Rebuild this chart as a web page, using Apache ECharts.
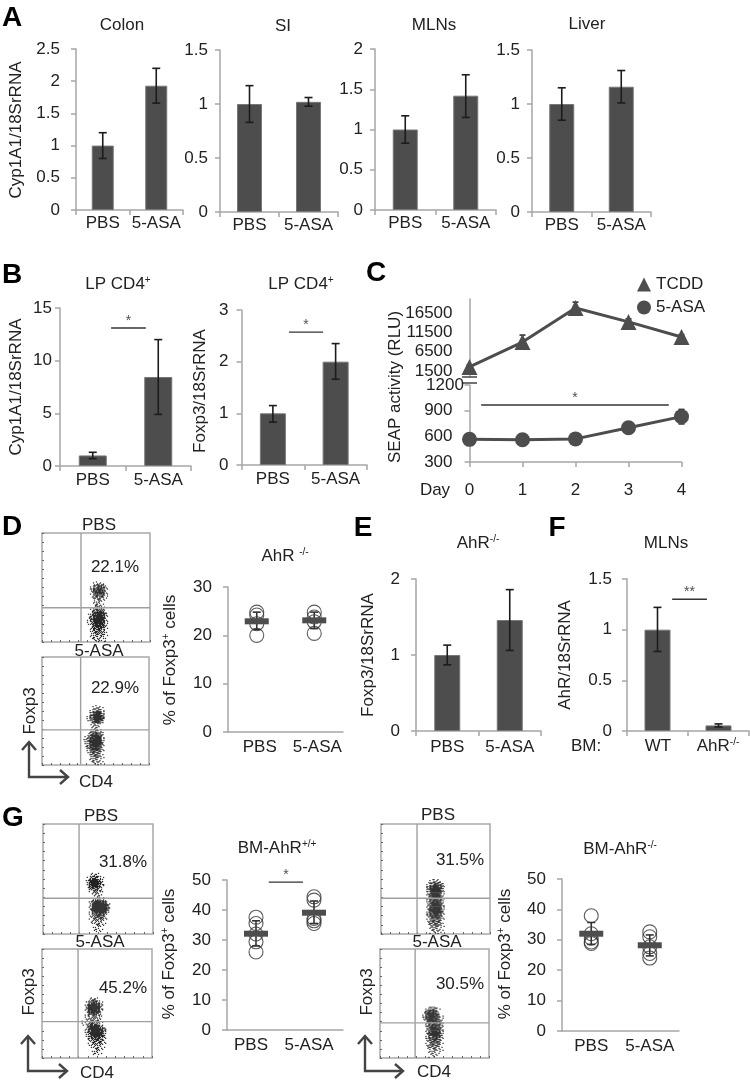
<!DOCTYPE html>
<html>
<head>
<meta charset="utf-8">
<style>
  html, body { margin: 0; padding: 0; background: #fff; }
  #chart { width: 750px; height: 1085px; }
</style>
<script src="https://cdn.jsdelivr.net/npm/echarts@6/dist/echarts.min.js"></script>
</head>
<body>
<div id="chart"></div>
<script>
// 分组
const pbsAsa = ['PBS', '5-ASA']
const wtKo = ['WT', 'AhR-/-']
const days = [0, 1, 2, 3, 4]

// A - mean / low / high
const colonMean = [1, 1.93]
const colonLow = [0.8, 1.66]
const colonHigh = [1.2, 2.2]
const siMean = [1, 1.02]
const siLow = [0.83, 0.98]
const siHigh = [1.17, 1.06]
const mlnMean = [1, 1.42]
const mlnLow = [0.83, 1.15]
const mlnHigh = [1.17, 1.68]
const liverMean = [1, 1.16]
const liverLow = [0.85, 1.01]
const liverHigh = [1.15, 1.31]

// B
const lpCypMean = [1, 8.45]
const lpCypLow = [0.7, 4.9]
const lpCypHigh = [1.3, 12]
const lpFoxMean = [1, 2]
const lpFoxLow = [0.83, 1.66]
const lpFoxHigh = [1.15, 2.35]

// C
const tcdd = [2600, 9000, 17800, 14200, 10300]
const tcddErr = [500, 1800, 1500, 800, 600]
const asa = [565, 560, 570, 700, 830]
const asaErr = [40, 40, 45, 60, 85]
const upperTicks = [1500, 6500, 11500, 16500]
const lowerTicks = [300, 600, 900]

// E, F
const koFoxMean = [1, 1.46]
const koFoxLow = [0.87, 1.06]
const koFoxHigh = [1.13, 1.86]
const ahrMean = [1, 0.055]
const ahrLow = [0.785, 0.04]
const ahrHigh = [1.22, 0.07]

// D, G 散点 - 每组的读数
const dPbs = [24.8, 24.2, 22.4, 20]
const dAsa = [24.8, 23.8, 22.8, 20.4]
const dMean = [22.9, 23.1]
const dLow = [21.2, 21.4]
const dHigh = [24.8, 24.8]
const g1Pbs = [37.6, 35.5, 32, 29.4, 26]
const g1Asa = [44.4, 43.3, 37.2, 36.4, 35.5]
const g1Mean = [32.1, 39.1]
const g1Low = [28, 35.5]
const g1High = [36.4, 43]
const g2Pbs = [37.9, 32, 30.5, 29.3, 28.8]
const g2Asa = [32.6, 31, 27.7, 25.5, 24]
const g2Mean = [32, 28.2]
const g2Low = [28.5, 24.7]
const g2High = [35.7, 31.6]

// 流式图 - 按 3px 一格读出的密度,0-9
const flowD1 = ['...1221...', '..146641..', '..278862..', '..278872..', '..156652..', '..134431..', '...2331...', '...2321...', '...2331...', '..24664...', '.1378972..', '.1489982..', '.2599982..', '.1489972..', '.1378862..', '..367751..', '..255541..', '..244431..', '..233321..', '...2221...']
const flowD2 = ['....1221...', '...13431...', '...26993...', '..158985...', '..158996...', '..136963...', '...1331....', '...1221....', '...2442....', '..146752...', '.1378982...', '.2489993...', '.2489993...', '.1389982...', '..378862...', '..256641...', '...35531...', '...24431...', '...23321...', '....221....']
const flowG1 = ['...1221....', '..136631...', '..279962...', '..289973...', '..168952...', '...35631...', '...13421...', '....1221...', '....1342...', '...269985..', '...2999994.', '...3999994.', '...2899983.', '...157873..', '...245652..', '...134431..', '...123321..', '....1231...', '....1221...', '.....11....']
const flowG2 = ['...1331....', '..147741...', '..289983...', '..399993...', '..289982...', '..157741...', '..134431...', '.1233331...', '.1246531...', '.1268984...', '..2799985..', '..2699984..', '..2589973..', '...367752..', '...245542..', '...234431..', '....23321..', '....1331...', '....1221...']
const flowG3 = ['...1331...', '..246642..', '..379973..', '..389983..', '..389983..', '..379972..', '..267862..', '..268972..', '..379983..', '..389993..', '..389983..', '..378972..', '..267762..', '..256651..', '..245541..', '...34431..', '...23321..', '...1221...']
const flowG4 = ['..13431...', '.158851...', '.279973...', '.2799842..', '.2698852..', '..367762..', '..368873..', '..379983..', '..379983..', '..268972..', '..267862..', '..256651..', '..245541..', '..234431..', '...23321..', '...2221...', '...121....']

const FONT = '"Liberation Sans", Arial, sans-serif'
const INK = '#222'
const AXIS = '#a6a6a6'
const BAR = '#4d4d4d'

const grid = []
const xAxis = []
const yAxis = []
const series = []
const graphic = []

function text (x, y, str, opt = {}) {
  graphic.push({
    type: 'text',
    x,
    y,
    rotation: opt.vertical ? Math.PI / 2 : 0,
    z: 20,
    style: {
      text: str,
      align: 'center',
      verticalAlign: 'middle',
      fontFamily: FONT,
      fontSize: opt.size || 17,
      fontWeight: opt.weight || 'normal',
      fill: opt.fill || INK,
      rich: {
        t: { fontFamily: FONT, fontSize: opt.size || 17, fill: INK },
        s: { fontFamily: FONT, fontSize: 10, fill: INK, verticalAlign: 'top' },
      },
    },
  })
}

function stroke (points, width, color) {
  graphic.push({
    type: 'polyline',
    z: 15,
    shape: { points },
    style: { stroke: color, lineWidth: width, fill: 'none' },
  })
}

function whisker (api, cap, color) {
  const a = api.coord([api.value(0), api.value(1)])
  const b = api.coord([api.value(0), api.value(2)])
  const style = { stroke: color, lineWidth: 1.6 }
  return {
    type: 'group',
    children: [
      { type: 'line', shape: { x1: a[0], y1: a[1], x2: b[0], y2: b[1] }, style },
      { type: 'line', shape: { x1: a[0] - cap, y1: a[1], x2: a[0] + cap, y2: a[1] }, style },
      { type: 'line', shape: { x1: b[0] - cap, y1: b[1], x2: b[0] + cap, y2: b[1] }, style },
    ],
  }
}

function errorSeries (gi, low, high, cap, color) {
  series.push({
    type: 'custom',
    xAxisIndex: gi.cat,
    yAxisIndex: gi.y,
    z: 6,
    encode: { x: 0, y: [1, 2] },
    data: low.map((v, i) => [i, v, high[i]]),
    renderItem: (params, api) => whisker(api, cap, color),
  })
}

// 显著性标记:横线 + 星号,x 走隐藏的 0-2 数值轴
function sigMark (gi, from, to, y, star) {
  series.push({
    type: 'line',
    xAxisIndex: gi.val,
    yAxisIndex: gi.y,
    symbol: 'none',
    silent: true,
    lineStyle: { color: '#333', width: 1.3 },
    data: [[from, y], [to, y]],
  })
  series.push({
    type: 'scatter',
    xAxisIndex: gi.val,
    yAxisIndex: gi.y,
    symbolSize: 0,
    silent: true,
    label: { show: true, position: 'top', distance: 0, formatter: star, fontFamily: FONT, fontSize: 14, color: INK },
    data: [[(from + to) / 2, y]],
  })
}

function addAxes (box, cats, yMax, yInt, opt = {}) {
  const g = grid.length
  grid.push({ left: box[0], top: box[1], width: box[2] - box[0], height: box[3] - box[1] })
  const cat = xAxis.length
  xAxis.push({
    type: 'category',
    gridIndex: g,
    data: cats,
    axisLine: { lineStyle: { color: AXIS, width: 1.5 } },
    axisTick: { show: opt.xTick !== false, length: 5, lineStyle: { color: AXIS, width: 1.5 } },
    axisLabel: {
      show: !opt.noCatLabel,
      margin: opt.xMargin || 6,
      interval: 0,
      padding: opt.labelPad || 0,
      fontFamily: FONT,
      fontSize: 17,
      color: INK,
    },
  })
  const val = xAxis.length
  xAxis.push({ type: 'value', gridIndex: g, min: 0, max: 2, show: false })
  const y = yAxis.length
  yAxis.push({
    type: 'value',
    gridIndex: g,
    min: 0,
    max: yMax,
    interval: yInt,
    splitLine: { show: false },
    axisLine: { show: true, lineStyle: { color: AXIS, width: 1.5 } },
    axisTick: { show: true, length: 5, lineStyle: { color: AXIS, width: 1.5 } },
    axisLabel: { margin: opt.yMargin || 12, fontFamily: FONT, fontSize: 17, color: INK },
  })
  return { cat, val, y }
}

function barPanel (box, cats, mean, low, high, yMax, yInt, barW, opt = {}) {
  const gi = addAxes(box, cats, yMax, yInt, opt)
  series.push({
    type: 'bar',
    xAxisIndex: gi.cat,
    yAxisIndex: gi.y,
    barWidth: barW,
    z: 4,
    itemStyle: { color: BAR, borderColor: '#777', borderWidth: 1 },
    data: mean,
  })
  errorSeries(gi, low, high, 4, '#1c1c1c')
  return gi
}

function dotPanel (box, groups, mean, low, high, yMax, yInt, labelPad) {
  const gi = addAxes(box, pbsAsa, yMax, yInt, { xTick: false, xMargin: 7, yMargin: 16, labelPad })
  const points = []
  groups.forEach((vals, i) => vals.forEach(v => points.push([i, v])))
  series.push({
    type: 'scatter',
    xAxisIndex: gi.cat,
    yAxisIndex: gi.y,
    z: 3,
    symbolSize: 14,
    itemStyle: { color: 'rgba(255,255,255,0)', borderColor: '#333', borderWidth: 1.1 },
    data: points,
  })
  errorSeries(gi, low, high, 4, '#333')
  series.push({
    type: 'custom',
    xAxisIndex: gi.cat,
    yAxisIndex: gi.y,
    z: 7,
    encode: { x: 0, y: 1 },
    data: mean.map((v, i) => [i, v]),
    renderItem: (params, api) => {
      const c = api.coord([api.value(0), api.value(1)])
      return {
        type: 'rect',
        shape: { x: c[0] - 12, y: c[1] - 3, width: 24, height: 6 },
        style: { fill: '#4d4d4d' },
      }
    },
  })
  return gi
}

// 一格 3x3 子点,密度 d 就点亮 d 个,起点随格子错开免得太规整
const subOrder = [[1, 1], [0, 2], [2, 0], [2, 2], [0, 0], [1, 2], [1, 0], [2, 1], [0, 1]]

function flowPlot (box, rows, colStart, rowStart, gateX, gateY) {
  const g = grid.length
  grid.push({
    left: box[0],
    top: box[1],
    width: box[2] - box[0],
    height: box[3] - box[1],
    show: true,
    borderColor: '#a8a8a8',
    borderWidth: 1.5,
  })
  const tick = { show: true, inside: true, length: 2, lineStyle: { color: '#666', width: 1 } }
  const base = { type: 'value', gridIndex: g, min: 0, max: 36, interval: 3, splitLine: { show: false }, axisLine: { show: false, onZero: false }, axisLabel: { show: false }, axisTick: tick }
  const xi = xAxis.length
  const yi = yAxis.length
  xAxis.push({ ...base, position: 'bottom' })
  yAxis.push({ ...base, inverse: true, position: 'left' })

  const dots = []
  rows.forEach((row, r) => {
    row.split('').forEach((ch, c) => {
      if (ch === '.') return
      const col = colStart + c
      const line = rowStart + r
      const shift = (col * 5 + line * 7) % 9
      for (let k = 0; k < Number(ch); k++) {
        const sub = subOrder[(k + shift) % 9]
        dots.push([col + (sub[0] + 0.5) / 3, line + (sub[1] + 0.5) / 3])
      }
    })
  })
  series.push({
    type: 'scatter',
    xAxisIndex: xi,
    yAxisIndex: yi,
    symbol: 'rect',
    symbolSize: 1.25,
    silent: true,
    itemStyle: { color: '#000' },
    data: dots,
  })
  const gate = { type: 'line', xAxisIndex: xi, yAxisIndex: yi, symbol: 'none', silent: true, z: 5, lineStyle: { color: '#a0a0a0', width: 1.4 } }
  series.push({ ...gate, data: [[gateX, 0], [gateX, 36]] })
  series.push({ ...gate, data: [[0, gateY], [36, gateY]] })
}

function axisArrows (x, yTop, yBottom, xRight) {
  stroke([[x, yTop], [x, yBottom], [xRight, yBottom]], 2.4, '#444')
  stroke([[x - 7, yTop + 8], [x, yTop], [x + 7, yTop + 8]], 2.4, '#444')
  stroke([[xRight - 8, yBottom - 7], [xRight, yBottom], [xRight - 8, yBottom + 7]], 2.4, '#444')
}

// A
barPanel([76, 49, 183, 210], pbsAsa, colonMean, colonLow, colonHigh, 2.5, 0.5, 22, { yMargin: 16, xMargin: 5 })
barPanel([220, 50, 338, 212], pbsAsa, siMean, siLow, siHigh, 1.5, 0.5, 25, { xMargin: 5 })
barPanel([375, 49, 496, 210], pbsAsa, mlnMean, mlnLow, mlnHigh, 2, 0.5, 25, { xMargin: 5 })
barPanel([532, 50, 651, 212], pbsAsa, liverMean, liverLow, liverHigh, 1.5, 0.5, 25, { xMargin: 5 })

// B
const b1 = barPanel([60, 308, 191, 466], pbsAsa, lpCypMean, lpCypLow, lpCypHigh, 15, 5, 28, { yMargin: 8 })
sigMark(b1, 0.78, 1.31, 13.1, '*')
const b2 = barPanel([241.5, 310, 367, 465], pbsAsa, lpFoxMean, lpFoxLow, lpFoxHigh, 3, 1, 26, { yMargin: 13 })
sigMark(b2, 0.757, 1.3, 2.57, '*')

// C 折断的 y 轴,上下两个 grid
const cUp = grid.length
grid.push({ left: 469.5, top: 299, width: 212, height: 78 })
const cLow = grid.length
grid.push({ left: 469.5, top: 385, width: 212, height: 77 })
const cUpX = xAxis.length
xAxis.push({ type: 'value', gridIndex: cUp, min: 0, max: 4, show: false })
const cLowX = xAxis.length
xAxis.push({
  type: 'value',
  gridIndex: cLow,
  min: 0,
  max: 4,
  interval: 1,
  splitLine: { show: false },
  axisLine: { lineStyle: { color: AXIS, width: 1.5 } },
  axisTick: { length: 5, lineStyle: { color: AXIS, width: 1.5 } },
  axisLabel: { margin: 20, fontFamily: FONT, fontSize: 17, color: INK, showMinLabel: true, showMaxLabel: true },
})
const cUpY = yAxis.length
yAxis.push({
  type: 'value',
  gridIndex: cUp,
  min: 0,
  max: 20100,
  splitLine: { show: false },
  axisLine: { show: true, lineStyle: { color: AXIS, width: 1.5 } },
  axisTick: { show: false },
  axisLabel: { margin: 17, fontFamily: FONT, fontSize: 17, color: INK, customValues: upperTicks, formatter: v => String(v) },
})
const cLowY = yAxis.length
yAxis.push({
  type: 'value',
  gridIndex: cLow,
  min: 300,
  max: 1200,
  interval: 300,
  splitLine: { show: false },
  axisLine: { show: true, lineStyle: { color: AXIS, width: 1.5 } },
  axisTick: { show: true, length: 5, lineStyle: { color: AXIS, width: 1.5 } },
  axisLabel: { margin: 17, fontFamily: FONT, fontSize: 17, color: INK, customValues: lowerTicks },
})

function dayLine (name, values, errs, xi, yi, symbol, size) {
  const pts = days.map((d, i) => [d, values[i]])
  series.push({
    name,
    type: 'line',
    xAxisIndex: xi,
    yAxisIndex: yi,
    symbol,
    symbolSize: size,
    z: 4,
    clip: false,
    lineStyle: { color: BAR, width: 3 },
    itemStyle: { color: BAR },
    data: pts,
  })
  series.push({
    type: 'custom',
    xAxisIndex: xi,
    yAxisIndex: yi,
    z: 3,
    clip: false,
    encode: { x: 0, y: [1, 2] },
    data: pts.map((p, i) => [p[0], p[1] - errs[i], p[1] + errs[i]]),
    renderItem: (params, api) => whisker(api, 3, '#333'),
  })
}
dayLine('TCDD', tcdd, tcddErr, cUpX, cUpY, 'triangle', 16)
dayLine('5-ASA', asa, asaErr, cLowX, cLowY, 'circle', 15)
sigMark({ val: cLowX, y: cLowY }, 0.22, 3.76, 966, '*')
stroke([[462, 377], [477, 377]], 1.5, '#444')
stroke([[462, 383], [477, 383]], 1.5, '#444')

// D, E, F
flowPlot([42, 533, 150, 642], flowD1, 14, 16, 13, 24.7)
flowPlot([42, 657, 149, 765], flowD2, 13, 16, 13, 24.3)
dotPanel([228, 587, 343, 732], [dPbs, dAsa], dMean, dLow, dHigh, 30, 10, [0, 0, 0, 6])
barPanel([416, 579, 541, 731], pbsAsa, koFoxMean, koFoxLow, koFoxHigh, 2, 1, 26, { xMargin: 8, yMargin: 16 })
const f = barPanel([627, 579, 749, 731], wtKo, ahrMean, ahrLow, ahrHigh, 1.5, 0.5, 26, { xMargin: 8, yMargin: 15, noCatLabel: true })
sigMark(f, 0.74, 1.31, 1.3, '**')

// G
flowPlot([43, 824, 153, 934], flowG1, 12, 16, 11.8, 24.3)
flowPlot([42, 949, 152, 1058], flowG2, 12, 16, 11.8, 24)
const g1 = dotPanel([227, 880, 343, 1030], [g1Pbs, g1Asa], g1Mean, g1Low, g1High, 50, 10, [0, 10, 0, 0])
sigMark(g1, 0.72, 1.31, 49.3, '*')
flowPlot([381, 824, 490, 934], flowG3, 13, 18, 11.9, 24.3)
flowPlot([380, 949, 489, 1058], flowG4, 13, 19, 11.6, 24.4)
dotPanel([562, 879, 679, 1031], [g2Pbs, g2Asa], g2Mean, g2Low, g2High, 50, 10)

// 面板字母
const letters = [['A', 12, 18], ['B', 12, 275], ['C', 376, 273], ['D', 12, 527], ['E', 363, 528], ['F', 557, 528], ['G', 13, 818]]
letters.forEach(l => text(l[1], l[2], l[0], { size: 28, weight: 'bold', fill: '#000' }))

// 标题
text(122, 25, 'Colon')
text(283, 26, 'SI')
text(434, 25, 'MLNs')
text(587, 24, 'Liver')
text(118, 284, '{t|LP CD4}{s|+}')
text(301, 284, '{t|LP CD4}{s|+}')
text(285, 556, '{t|AhR }{s|-/-}')
text(478, 543, '{t|AhR}{s|-/-}')
text(666, 543, 'MLNs')
text(277, 848, '{t|BM-AhR}{s|+/+}')
text(620, 849, '{t|BM-AhR}{s|-/-}')

// y 轴标题
text(16, 130, 'Cyp1A1/18SrRNA', { vertical: true })
text(16, 387, 'Cyp1A1/18SrRNA', { vertical: true })
text(200, 391, 'Foxp3/18SrRNA', { vertical: true })
text(395, 387, 'SEAP activity (RLU)', { vertical: true })
text(170, 660, '{t|% of Foxp3}{s|+}{t| cells}', { vertical: true })
text(368, 655, 'Foxp3/18SrRNA', { vertical: true })
text(565, 655, 'AhR/18SrRNA', { vertical: true })
text(169, 954, '{t|% of Foxp3}{s|+}{t| cells}', { vertical: true })
text(505, 954, '{t|% of Foxp3}{s|+}{t| cells}', { vertical: true })

// 其余散落文字
text(445, 385, '1200')
text(435, 490, 'Day')
text(586, 746, 'BM:')
text(658, 746, 'WT')
text(718, 746, '{t|AhR}{s|-/-}')

// 流式图文字
text(99, 525, 'PBS')
text(115, 567, '22.1%')
text(99, 651, '5-ASA')
text(115, 688, '22.9%')
text(30, 711, 'Foxp3', { vertical: true })
text(96, 782, 'CD4')
text(101, 816, 'PBS')
text(123, 862, '31.8%')
text(100, 942, '5-ASA')
text(123, 988, '45.2%')
text(29, 992, 'Foxp3', { vertical: true })
text(97, 1073, 'CD4')
text(438, 815, 'PBS')
text(460, 860, '31.5%')
text(437, 942, '5-ASA')
text(460, 984, '30.5%')
text(367, 992, 'Foxp3', { vertical: true })
text(434, 1072, 'CD4')

axisArrows(29, 742, 777, 68)
axisArrows(28, 1036, 1071, 67)
axisArrows(365, 1036, 1071, 403)

const chart = echarts.init(document.getElementById('chart'), null, { renderer: 'canvas' })
chart.setOption({
  animation: false,
  backgroundColor: '#fff',
  legend: {
    left: 637,
    top: 276,
    padding: 0,
    orient: 'vertical',
    itemWidth: 14,
    itemHeight: 14,
    itemGap: 6,
    textStyle: { fontFamily: FONT, fontSize: 17, color: INK },
    data: [
      { name: 'TCDD', icon: 'triangle', itemStyle: { color: BAR } },
      { name: '5-ASA', icon: 'circle', itemStyle: { color: BAR } },
    ],
  },
  grid,
  xAxis,
  yAxis,
  series,
  graphic: { elements: graphic },
})
</script>
</body>
</html>
